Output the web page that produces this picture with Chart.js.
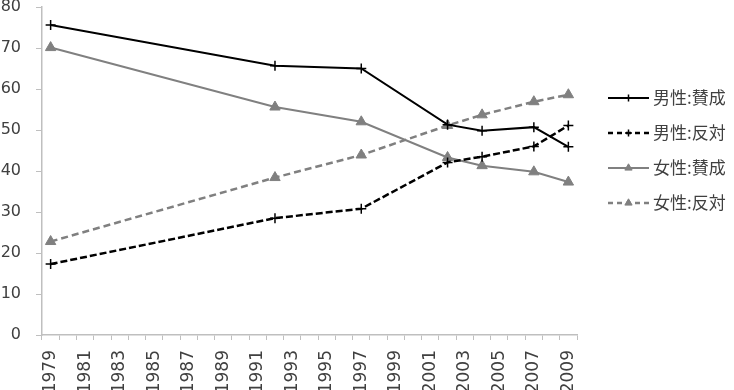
<!DOCTYPE html>
<html>
<head>
<meta charset="utf-8">
<script src="https://cdn.jsdelivr.net/npm/chart.js@4/dist/chart.umd.min.js"></script>
<style>
  html, body { margin: 0; padding: 0; background: #ffffff; }
  #c { display: block; }
</style>
</head>
<body>
<canvas id="c" width="734" height="390"></canvas>
<script>
// ---- data ----
const categories = ['1979','1980','1981','1982','1983','1984','1985','1986','1987','1988','1989','1990','1991','1992','1993','1994','1995','1996','1997','1998','1999','2000','2001','2002','2003','2004','2005','2006','2007','2008','2009'];
const surveyYears = ['1979','1992','1997','2002','2004','2007','2009'];
const maleAgree    = [75.6, 65.7, 65.0, 51.3, 49.8, 50.7, 45.9];
const maleOppose   = [17.3, 28.5, 30.8, 42.1, 43.5, 46.0, 51.1];
const femaleAgree  = [70.1, 55.6, 52.0, 43.3, 41.3, 39.8, 37.3];
const femaleOppose = [22.8, 38.4, 43.9, 51.1, 53.7, 56.9, 58.6];
const seriesNames  = ['男性:賛成', '男性:反対', '女性:賛成', '女性:反対'];
const yTicks = [0, 10, 20, 30, 40, 50, 60, 70, 80];

function pts(vals) { return surveyYears.map((y, i) => ({ x: y, y: vals[i] })); }

const BLACK = '#000000';
const GRAY = '#808080';
const AXIS = '#bfbfbf';
const TEXT = '#404040';

const datasets = [
  { label: seriesNames[0], data: pts(maleAgree), borderColor: BLACK, backgroundColor: BLACK,
    borderWidth: 2, borderDash: [], pointStyle: 'cross', pointRadius: 5, pointBorderWidth: 1.5,
    pointBorderColor: BLACK },
  { label: seriesNames[1], data: pts(maleOppose), borderColor: BLACK, backgroundColor: BLACK,
    borderWidth: 2.5, borderDash: [7, 3], pointStyle: 'cross', pointRadius: 5, pointBorderWidth: 1.5,
    pointBorderColor: BLACK },
  { label: seriesNames[2], data: pts(femaleAgree), borderColor: GRAY, backgroundColor: GRAY,
    borderWidth: 2, borderDash: [], pointStyle: 'triangle', pointRadius: 6, pointBorderWidth: 1,
    pointBorderColor: GRAY },
  { label: seriesNames[3], data: pts(femaleOppose), borderColor: GRAY, backgroundColor: GRAY,
    borderWidth: 2.5, borderDash: [7, 4], pointStyle: 'triangle', pointRadius: 6, pointBorderWidth: 1,
    pointBorderColor: GRAY }
];
datasets.forEach(d => { d.tension = 0; d.spanGaps = true; d.fill = false; });

// custom legend: line + marker + label, on the right
const sideLegend = {
  id: 'sideLegend',
  afterDraw(chart) {
    const ctx = chart.ctx;
    const x0 = 608, x1 = 649, tx = 653, y0 = 98, gap = 35;
    chart.data.datasets.forEach((ds, i) => {
      const y = y0 + i * gap;
      ctx.save();
      ctx.strokeStyle = ds.borderColor;
      ctx.lineWidth = ds.borderWidth;
      ctx.setLineDash(ds.borderDash.length ? [5, 4] : []);
      ctx.beginPath(); ctx.moveTo(x0, y); ctx.lineTo(x1, y); ctx.stroke();
      ctx.setLineDash([]);
      ctx.fillStyle = ds.backgroundColor;
      ctx.strokeStyle = ds.pointBorderColor;
      ctx.lineWidth = ds.pointBorderWidth;
      Chart.helpers.drawPoint(ctx, {
        pointStyle: ds.pointStyle, radius: ds.pointRadius * 0.7, borderWidth: ds.pointBorderWidth, rotation: 0
      }, (x0 + x1) / 2, y);
      ctx.fillStyle = TEXT;
      ctx.font = '17px "Noto Sans CJK JP"';
      ctx.textBaseline = 'middle';
      ctx.textAlign = 'left';
      ctx.fillText(ds.label, tx, y);
      ctx.restore();
    });
  }
};

new Chart(document.getElementById('c'), {
  type: 'line',
  data: { labels: categories, datasets },
  plugins: [sideLegend],
  options: {
    responsive: false,
    animation: false,
    layout: { padding: { top: 3, right: 157, left: 0, bottom: 0 } },
    plugins: { legend: { display: false }, tooltip: { enabled: false } },
    scales: {
      x: {
        type: 'category',
        offset: true,
        grid: { offset: true, drawOnChartArea: false, drawTicks: true, tickLength: 5, color: AXIS, lineWidth: 1 },
        border: { color: AXIS, width: 1.5 },
        ticks: {
          autoSkip: false, minRotation: 90, maxRotation: 90, padding: 10,
          color: TEXT, font: { family: 'DejaVu Sans', size: 17 },
          callback: (v, i) => (i % 2 === 0 ? categories[i] : '')
        },
        afterFit: s => { s.height = 55; s.paddingLeft = 0; s.paddingRight = 0; s.paddingTop = 0; s.paddingBottom = 0; }
      },
      y: {
        min: yTicks[0], max: yTicks[yTicks.length - 1],
        afterBuildTicks: s => { s.ticks = yTicks.map(v => ({ value: v })); },
        grid: { drawOnChartArea: false, drawTicks: true, tickLength: 6, color: AXIS },
        border: { color: AXIS, width: 1.5 },
        ticks: { color: TEXT, font: { family: 'DejaVu Sans', size: 16 }, padding: 15 },
        afterFit: s => { s.width = 42; s.paddingTop = 0; s.paddingBottom = 0; s.paddingLeft = 0; s.paddingRight = 0; }
      }
    }
  }
});
</script>
</body>
</html>
